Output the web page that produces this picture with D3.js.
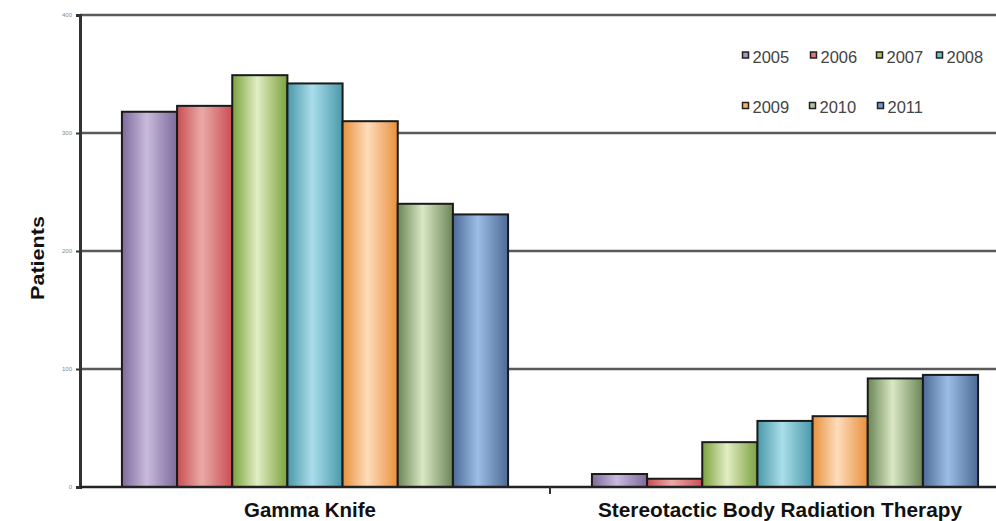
<!DOCTYPE html>
<html>
<head>
<meta charset="utf-8">
<script src="https://cdn.jsdelivr.net/npm/d3@7"></script>
<style>
  body { margin: 0; background: #fff; }
  svg { display: block; }
</style>
</head>
<body>
<div class="chart"></div>
<script>
const categories = ['Gamma Knife', 'Stereotactic Body Radiation Therapy']
const years = ['2005', '2006', '2007', '2008', '2009', '2010', '2011']
const gammaKnife = [318, 323, 349, 342, 310, 240, 231]
const sbrt = [11, 7, 38, 56, 60, 92, 95]
const yTicks = [0, 100, 200, 300, 400]

// dark edge / light centre for each year's cylinder-ish bar
const edgeColors = ['#7d6a9c', '#c94e52', '#7aa23c', '#4a98aa', '#e8903c', '#6a8656', '#4c6a96']
const midColors = ['#c8badc', '#eaaaa8', '#e2edc4', '#aadeea', '#fedcbc', '#dae8c4', '#9cbee6']
const swatchColors = ['#a896c0', '#e07878', '#a8c870', '#70c0d0', '#f8b070', '#b0c8a0', '#7098d0']

const data = categories.map((c, i) => ({
    category: c,
    values: (i === 0 ? gammaKnife : sbrt).map((v, j) => ({ year: years[j], value: v, idx: j }))
}))

const width = 996
const height = 521
const margin = { top: 15, left: 80, right: -24, bottom: 34 }

const svg = d3.select('.chart')
    .append('svg')
    .attr('width', width)
    .attr('height', height)

const defs = svg.append('defs')
years.forEach((y, i) => {
    const g = defs.append('linearGradient')
        .attr('id', 'grad' + i)
        .attr('x1', '0%').attr('x2', '100%')
        .attr('y1', '0%').attr('y2', '0%')
    g.append('stop').attr('offset', '0%').attr('stop-color', edgeColors[i])
    g.append('stop').attr('offset', '45%').attr('stop-color', midColors[i])
    g.append('stop').attr('offset', '100%').attr('stop-color', edgeColors[i])
})

const x0 = d3.scaleBand()
    .domain(categories)
    .range([margin.left, width - margin.right])

const x1 = d3.scaleBand()
    .domain(years)
    .range([0, x0.bandwidth()])
    .paddingInner(0)
    .paddingOuter(0.76)

const y = d3.scaleLinear()
    .domain([0, 400])
    .range([height - margin.bottom, margin.top])

// gridlines
svg.append('g')
    .selectAll('line')
    .data(yTicks.filter(d => d > 0))
    .enter()
    .append('line')
    .attr('x1', margin.left)
    .attr('x2', width)
    .attr('y1', d => y(d))
    .attr('y2', d => y(d))
    .attr('stroke', '#5a5a5a')
    .attr('stroke-width', 2.5)

// bars
const groups = svg.append('g')
    .selectAll('g')
    .data(data)
    .enter()
    .append('g')
    .attr('transform', d => `translate(${x0(d.category)},0)`)

groups.selectAll('rect')
    .data(d => d.values)
    .enter()
    .append('rect')
    .attr('x', d => x1(d.year))
    .attr('y', d => y(d.value))
    .attr('width', x1.bandwidth())
    .attr('height', d => y(0) - y(d.value))
    .attr('fill', d => `url(#grad${d.idx})`)
    .attr('stroke', '#1a1a1a')
    .attr('stroke-width', 2)

// y axis
const yAxis = svg.append('g')
    .attr('transform', `translate(${margin.left},0)`)
    .call(d3.axisLeft(y).tickValues(yTicks).tickSize(4).tickPadding(4))
yAxis.select('.domain').attr('stroke', '#333').attr('stroke-width', 3)
yAxis.selectAll('.tick line').attr('stroke', '#333').attr('stroke-width', 2)
yAxis.selectAll('text').attr('font-size', 6).attr('fill', '#888')
    .attr('font-family', 'Liberation Sans, Arial, sans-serif')

// x axis
const xAxis = svg.append('g')
    .attr('transform', `translate(0,${y(0)})`)
    .call(d3.axisBottom(x0).tickSize(0).tickFormat(''))
xAxis.select('.domain').attr('stroke', '#222').attr('stroke-width', 2.5)
    .attr('d', `M${margin.left},0H${width}`)

svg.append('line')
    .attr('x1', x0(categories[1])).attr('x2', x0(categories[1]))
    .attr('y1', y(0)).attr('y2', y(0) + 7)
    .attr('stroke', '#333').attr('stroke-width', 2)

const catWidths = [132, 364]
svg.selectAll('.cat-label')
    .data(categories)
    .enter()
    .append('text')
    .attr('class', 'cat-label')
    .attr('x', d => x0(d) + x0.bandwidth() / 2 - 5)
    .attr('y', 517)
    .attr('text-anchor', 'middle')
    .attr('font-family', 'Liberation Sans Narrow, Liberation Sans, Arial, sans-serif')
    .attr('font-weight', 'bold')
    .attr('font-size', 20)
    .attr('textLength', (d, i) => catWidths[i])
    .attr('lengthAdjust', 'spacingAndGlyphs')
    .attr('fill', '#111')
    .text(d => d)

// y title
svg.append('text')
    .attr('transform', 'translate(44,258) rotate(-90)')
    .attr('text-anchor', 'middle')
    .attr('font-family', 'Liberation Sans, Arial, sans-serif')
    .attr('font-weight', 'bold')
    .attr('font-size', 19)
    .attr('textLength', 84)
    .attr('lengthAdjust', 'spacingAndGlyphs')
    .attr('fill', '#111')
    .text('Patients')

// legend
const legendPos = [[742, 62.5], [810, 62.5], [876, 62.5], [936, 62.5], [742, 113], [809, 113], [877, 113]]
const legend = svg.append('g')
    .selectAll('g')
    .data(years)
    .enter()
    .append('g')
    .attr('transform', (d, i) => `translate(${legendPos[i][0]},${legendPos[i][1]})`)

legend.append('rect')
    .attr('x', 0.5).attr('y', -10.5)
    .attr('width', 6).attr('height', 6)
    .attr('fill', (d, i) => swatchColors[i])
    .attr('stroke', '#222')
    .attr('stroke-width', 1.5)

legend.append('text')
    .attr('x', 10.5)
    .attr('y', 0)
    .attr('font-family', 'Liberation Sans, Arial, sans-serif')
    .attr('font-size', 16.5)
    .attr('fill', '#444')
    .text(d => d)
</script>
</body>
</html>
